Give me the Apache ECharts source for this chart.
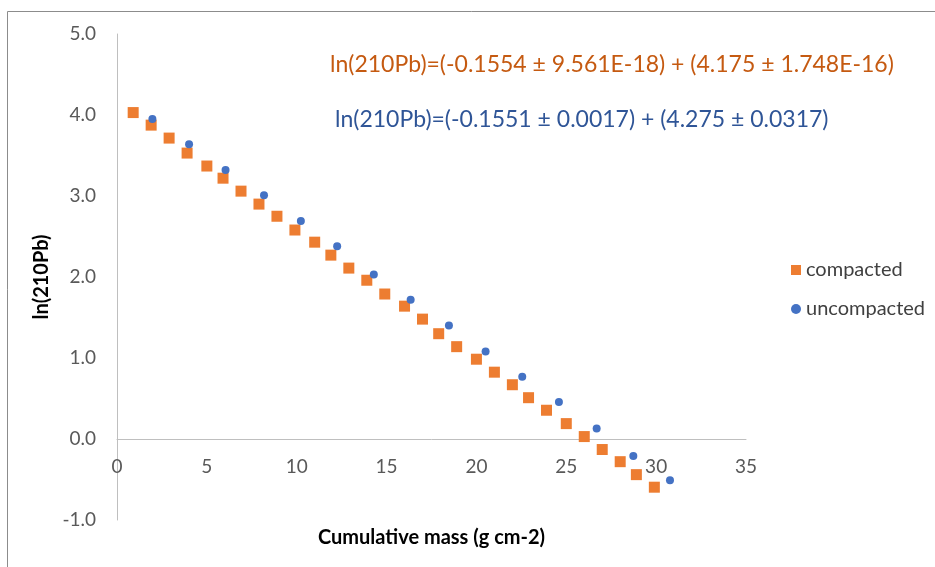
<!DOCTYPE html>
<html>
<head>
<meta charset="utf-8">
<title>ln(210Pb) vs cumulative mass</title>
<script src="https://cdn.jsdelivr.net/npm/echarts@6/dist/echarts.min.js"></script>
<style>
  html, body { margin: 0; padding: 0; background: #fff; }
  #main { width: 935px; height: 567px; }
</style>
</head>
<body>
<div id="main"></div>
<script>
// compacted core: cumulative mass and ln(210Pb)
var compactedX = [0.9, 1.9, 2.9, 3.9, 5.0, 5.9, 6.9, 7.9, 8.9, 9.9,
                  11.0, 11.9, 12.9, 13.9, 14.9, 16.0, 17.0, 17.9, 18.9, 20.0,
                  21.0, 22.0, 22.9, 23.9, 25.0, 26.0, 27.0, 28.0, 28.9, 29.9];
var compactedY = [4.03, 3.875, 3.715, 3.53, 3.37, 3.22, 3.06, 2.90, 2.75, 2.58,
                  2.43, 2.27, 2.11, 1.96, 1.79, 1.64, 1.48, 1.30, 1.14, 0.985,
                  0.825, 0.67, 0.51, 0.355, 0.19, 0.03, -0.13, -0.28, -0.44, -0.595];

// uncompacted core
var uncompactedX = [1.97, 4.01, 6.04, 8.18, 10.23, 12.25, 14.29, 16.34,
                    18.47, 20.51, 22.55, 24.59, 26.69, 28.73, 30.77];
var uncompactedY = [3.95, 3.64, 3.32, 3.01, 2.69, 2.38, 2.03, 1.72,
                    1.40, 1.08, 0.77, 0.456, 0.13, -0.21, -0.51];

var eqCompacted = 'ln(210Pb)=(-0.1554 ± 9.561E-18) + (4.175 ± 1.748E-16)';
var eqUncompacted = 'ln(210Pb)=(-0.1551 ± 0.0017) + (4.275 ± 0.0317)';

function pairs(xs, ys) {
    var out = [];
    for (var i = 0; i < xs.length; i++) out.push([xs[i], ys[i]]);
    return out;
}

var font = 'Lato, "Open Sans", sans-serif';
var chart = echarts.init(document.getElementById('main'));

// x axis sits at y = 0, one unit (81px) above the bottom of the plot
var zeroShift = 81;

chart.setOption({
    animation: false,
    textStyle: { fontFamily: font },
    grid: { left: 117, right: 189, top: 34, bottom: 47, containLabel: false, outerBoundsMode: 'none' },
    legend: {
        orient: 'vertical',
        left: 786,
        top: 255,
        itemGap: 19,
        itemWidth: 10,
        itemHeight: 10,
        textStyle: { color: '#404040', fontSize: 20, fontFamily: font },
        data: ['compacted', 'uncompacted']
    },
    xAxis: {
        type: 'value',
        min: 0, max: 35, interval: 5,
        offset: -zeroShift,
        name: 'Cumulative mass (g cm-2)',
        nameLocation: 'middle',
        nameGap: 8 + zeroShift,
        nameTextStyle: { color: '#000', fontWeight: 'bold', fontSize: 20, fontFamily: font, verticalAlign: 'top' },
        axisLine: { onZero: false, lineStyle: { color: '#bfbfbf', width: 1 } },
        axisTick: { show: false },
        splitLine: { show: false },
        axisLabel: { color: '#595959', fontSize: 19, margin: 18 }
    },
    yAxis: {
        type: 'value',
        min: -1, max: 5, interval: 1,
        name: 'ln(210Pb)',
        nameLocation: 'middle',
        nameGap: 64,
        nameTextStyle: { color: '#000', fontWeight: 'bold', fontSize: 20, fontFamily: font },
        axisLine: { show: true, lineStyle: { color: '#bfbfbf', width: 1 } },
        axisTick: { show: false },
        splitLine: { show: false },
        axisLabel: {
            color: '#595959', fontSize: 19, margin: 21,
            formatter: function (v) { return v.toFixed(1); }
        }
    },
    graphic: [
        {
            type: 'rect',
            shape: { x: 7.5, y: 11.5, width: 940, height: 570 },
            style: { fill: 'none', stroke: '#8c8c8c', lineWidth: 1 },
            silent: true
        },
        {
            type: 'text', left: 330, top: 53,
            style: { text: eqCompacted, fill: '#c55a11', fontSize: 23, fontFamily: font }
        },
        {
            type: 'text', left: 335, top: 108,
            style: { text: eqUncompacted, fill: '#2f5597', fontSize: 23, fontFamily: font }
        }
    ],
    series: [
        {
            name: 'compacted',
            type: 'scatter',
            symbol: 'rect',
            symbolSize: 11,
            itemStyle: { color: '#ed7d31', opacity: 1 },
            data: pairs(compactedX, compactedY)
        },
        {
            name: 'uncompacted',
            type: 'scatter',
            symbol: 'circle',
            symbolSize: 8,
            itemStyle: { color: '#4472c4', opacity: 1 },
            data: pairs(uncompactedX, uncompactedY)
        }
    ]
});
</script>
</body>
</html>
